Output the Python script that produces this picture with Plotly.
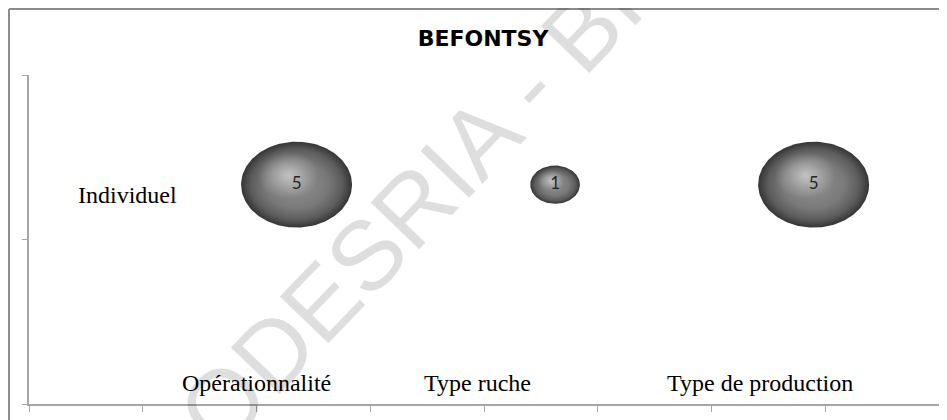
import numpy as np
import plotly.graph_objects as go

# bubble chart "BEFONTSY": one row (Individuel), three criteria
title = 'BEFONTSY'
row_label = 'Individuel'
categories = ['Opérationnalité', 'Type ruche', 'Type de production']
x_vals = [1, 2, 3]
y_vals = [1, 1, 1]
counts = [5, 1, 5]
watermark = 'CODESRIA - BIBLIOTHEQUE'

# where the free-floating category labels sit (paper coords)
label_x = [0.2505, 0.4934, 0.8033]
label_y = 0.064

# bubble half-axes per sqrt(count), in data units (picture is stretched -> ellipses)
KX = 0.096
KY = 0.0875

sphere_scale = [[0, '#8e8e8e'], [0.55, '#7a7a7a'], [0.82, '#5c5c5c'], [1, '#353535']]
shine_scale = [[0, 'rgba(255,255,255,0.5)'], [0.6, 'rgba(255,255,255,0.18)'], [1, 'rgba(255,255,255,0)']]

fig = go.Figure()

theta = np.linspace(0, 2 * np.pi, 181)
for x, y, n in zip(x_vals, y_vals, counts):
    rx = KX * np.sqrt(n)
    ry = KY * np.sqrt(n)
    fig.add_trace(go.Scatter(
        x=x + rx * np.cos(theta),
        y=y + ry * np.sin(theta),
        mode='lines',
        line_width=0,
        fill='toself',
        fillgradient=dict(type='radial', colorscale=sphere_scale),
        hoverinfo='skip',
        showlegend=False))
    # soft highlight, a bit up and left of centre
    fig.add_trace(go.Scatter(
        x=x - 0.15 * rx + 0.55 * rx * np.cos(theta),
        y=y + 0.22 * ry + 0.55 * ry * np.sin(theta),
        mode='lines',
        line_width=0,
        fill='toself',
        fillgradient=dict(type='radial', colorscale=shine_scale),
        hoverinfo='skip',
        showlegend=False))

# count labels on the bubbles
fig.add_trace(go.Scatter(
    x=x_vals,
    y=y_vals,
    mode='text',
    text=[str(c) for c in counts],
    textfont=dict(family='Lato', size=17, color='#262626'),
    hoverinfo='skip',
    showlegend=False))

for name, lx in zip(categories, label_x):
    fig.add_annotation(
        text=name, xref='paper', yref='paper', x=lx, y=label_y,
        showarrow=False, xanchor='center', yanchor='middle',
        font=dict(family='Liberation Serif', size=24, color='#000000'))

fig.add_annotation(
    text=row_label, xref='paper', yref='paper', x=0.1077, y=0.635,
    showarrow=False, xanchor='center', yanchor='middle',
    font=dict(family='Liberation Serif', size=24, color='#000000'))

# diagonal watermark
fig.add_annotation(
    text=watermark, xref='paper', yref='paper', x=0.633, y=1.203,
    showarrow=False, xanchor='center', yanchor='middle', textangle=-46,
    font=dict(family='Liberation Sans', size=98, color='rgba(0,0,0,0.13)'))

# outer chart frame (top and left edges only)
frame = dict(type='line', xref='paper', yref='paper', line=dict(color='#8c8c8c', width=2))
fig.add_shape(x0=-0.022, x1=1.02, y0=1.2006, y1=1.2006, **frame)
fig.add_shape(x0=-0.022, x1=-0.022, y0=1.2006, y1=-0.06, **frame)

x_lo, x_hi = -0.035, 3.485
fig.update_xaxes(
    range=[x_lo, x_hi], tick0=x_lo, dtick=(x_hi - x_lo) / 8,
    showticklabels=False, ticks='outside', ticklen=6, tickcolor='#a6a6a6',
    showline=True, linecolor='#a6a6a6', linewidth=1.5,
    showgrid=False, zeroline=False)
fig.update_yaxes(
    range=[0, 1.5], dtick=0.75,
    showticklabels=False, ticks='outside', ticklen=5, tickcolor='#a6a6a6',
    showline=True, linecolor='#a6a6a6', linewidth=1.5,
    showgrid=False, zeroline=False)

# page body adds an 8px offset, so the figure is 8px smaller than the window
fig.update_layout(
    width=939, height=412,
    margin=dict(l=21, r=8, t=67, b=16),
    paper_bgcolor='white',
    plot_bgcolor='white',
    title=dict(text='<b>' + title + '</b>', x=0.5059, xanchor='center',
               y=0.927, yanchor='middle',
               font=dict(family='DejaVu Sans', size=22, color='#000000')),
    showlegend=False)

fig.write_html("out.html")
